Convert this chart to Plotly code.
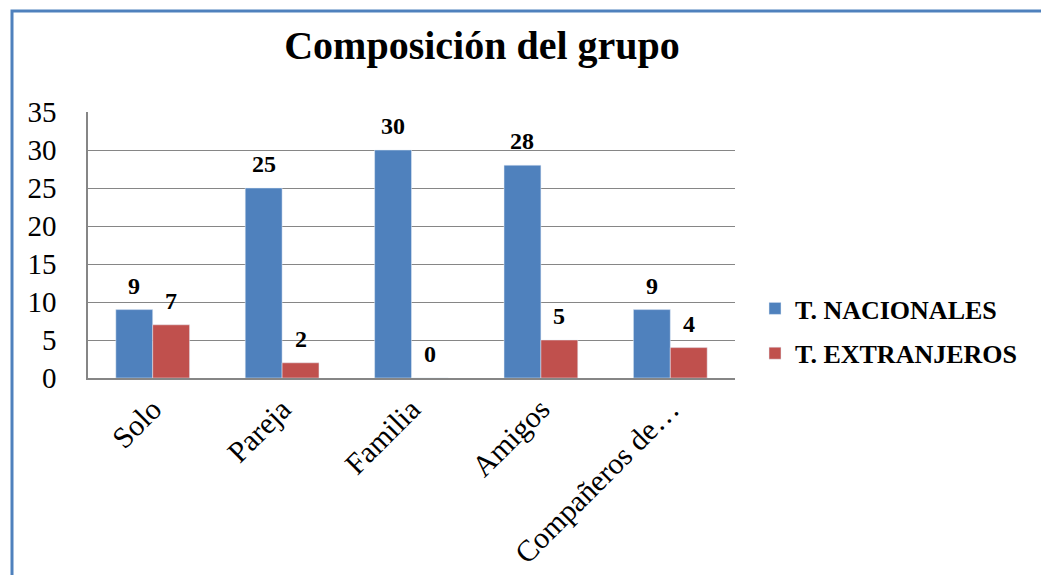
import plotly.graph_objects as go

categories = ["Solo", "Pareja", "Familia", "Amigos", "Compañeros de…"]
nacionales = [9, 25, 30, 28, 9]
extranjeros = [7, 2, 0, 5, 4]
y_ticks = [0, 5, 10, 15, 20, 25, 30, 35]

W, H = 1041, 575
L, R, T, B = 88, 735, 112, 378
font_family = "Liberation Serif"
BARGAP = 0.43

fig = go.Figure()
fig.add_trace(go.Bar(
    name="T. NACIONALES", x=categories, y=nacionales, legendgroup="a",
    marker=dict(color="#4F81BD"),
))
fig.add_trace(go.Bar(
    name="T. EXTRANJEROS", x=categories, y=extranjeros, legendgroup="b",
    marker=dict(color="#C0504D"),
))

pw, ph = R - L, B - T
bar_px = pw / len(categories) * (1 - BARGAP) / 2
for series, sign in ((nacionales, -1), (extranjeros, 1)):
    for cat, val in zip(categories, series):
        fig.add_annotation(x=cat, y=val, text=f"<b>{val}</b>", showarrow=False,
                           xshift=sign * bar_px / 2, yshift=24,
                           xanchor="center", yanchor="middle",
                           font=dict(family=font_family, size=24, color="black"))

fig.add_shape(type="rect", xref="paper", yref="paper",
              x0=(12 - L) / pw, x1=3, y0=(B - 11) / ph, y1=-3,
              line=dict(color="#4F81BD", width=3), fillcolor="rgba(0,0,0,0)",
              layer="below")

fig.update_layout(
    width=W, height=H,
    margin=dict(l=L, r=W - R, t=T, b=H - B, pad=0, autoexpand=False),
    paper_bgcolor="white", plot_bgcolor="white",
    font=dict(family=font_family, color="black"),
    title=dict(text="<b>Composición del grupo</b>", x=0.463, xref="container",
               xanchor="center", y=1 - 45 / H, yref="container", yanchor="middle",
               font=dict(family=font_family, size=40, color="black")),
    barmode="group", bargap=BARGAP, bargroupgap=0,
    showlegend=True,
    legend=dict(x=(755 - L) / pw, xanchor="left", y=(B - 331) / ph, yanchor="middle",
                font=dict(family=font_family, size=26, color="black", weight="bold"),
                itemwidth=30, tracegroupgap=8, bgcolor="rgba(0,0,0,0)"),
    xaxis=dict(tickangle=-45, tickfont=dict(family=font_family, size=30),
               showline=True, linecolor="#868686", linewidth=1.5, automargin=False,
               ticks="", showgrid=False),
    yaxis=dict(range=[0, 35], tickvals=y_ticks, tickfont=dict(family=font_family, size=29),
               showgrid=True, gridcolor="#868686", gridwidth=1.3, automargin=False,
               showline=True, linecolor="#868686", linewidth=1.5,
               zeroline=False, ticks="", ticklabelstandoff=24),
)

fig.write_html("out.html", config={"displayModeBar": False},
               post_script="document.body.style.margin='0px';")
